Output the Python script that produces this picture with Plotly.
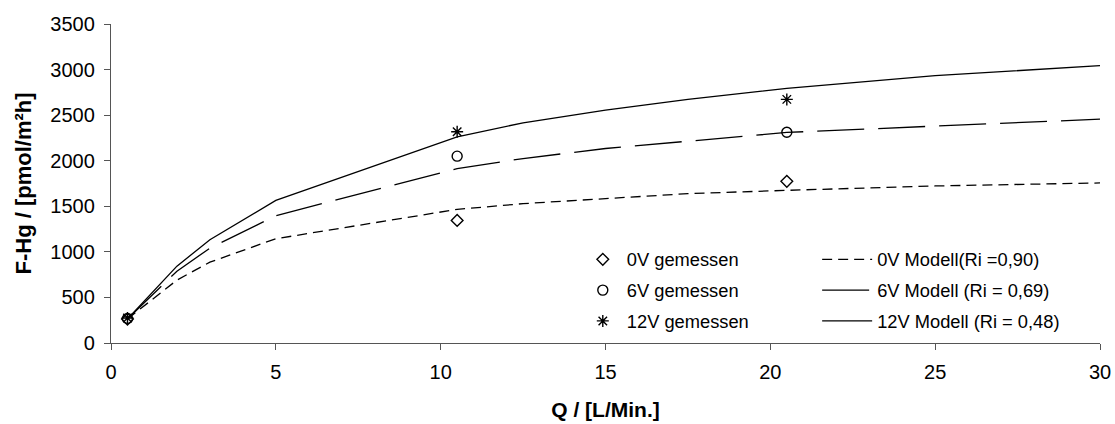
import plotly.graph_objects as go

# Measured flux at three flow rates
q_measured = [0.5, 10.5, 20.5]
flux_0v = [262, 1345, 1774]
flux_6v = [268, 2050, 2313]
flux_12v = [275, 2317, 2673]

# Model curves
q_model = [0.5, 2, 3, 5, 10.5, 12.5, 15, 17.5, 20.5, 25, 30]
model_0v = [264, 690, 887, 1144, 1466, 1529, 1584, 1639, 1675, 1723, 1756]
model_6v = [264, 788, 1041, 1397, 1914, 2024, 2134, 2215, 2310, 2380, 2456]
model_12v = [264, 843, 1133, 1565, 2262, 2416, 2555, 2673, 2794, 2933, 3043]

x_ticks = [0, 5, 10, 15, 20, 25, 30]
y_ticks = [0, 500, 1000, 1500, 2000, 2500, 3000, 3500]

FONT = "Liberation Sans, Arial, sans-serif"
INK = "black"

fig = go.Figure()

models = [
    ("0V Modell(Ri =0,90)", model_0v, "10px,6px"),
    ("6V Modell (Ri = 0,69)", model_6v, "47px,14px"),
    ("12V Modell (Ri = 0,48)", model_12v, "solid"),
]
for name, ys, dash in models:
    fig.add_trace(go.Scatter(
        x=q_model, y=ys, mode="lines", name=name,
        line=dict(color=INK, width=1.3, dash=dash),
        legend="legend2", legendgroup=name,
    ))

measured = [
    ("0V gemessen", flux_0v, "diamond-open", 9),
    ("6V gemessen", flux_6v, "circle-open", 10),
    ("12V gemessen", flux_12v, "asterisk-open", 10),
]
for name, ys, sym, size in measured:
    fig.add_trace(go.Scatter(
        x=q_measured, y=ys, mode="markers", name=name,
        marker=dict(symbol=sym, size=size, color=INK, line=dict(color=INK, width=1.4)),
        legend="legend", legendgroup=name,
    ))

legend_style = dict(
    font=dict(family=FONT, size=18.3, color=INK),
    bgcolor="rgba(0,0,0,0)", borderwidth=0,
    xanchor="left", yanchor="top", tracegroupgap=4,
    orientation="v",
)

fig.update_layout(
    width=1115, height=424,
    margin=dict(l=111, r=15, t=24, b=81),
    paper_bgcolor="white", plot_bgcolor="white",
    font=dict(family=FONT, size=20, color=INK),
    showlegend=True,
    legend=dict(x=0.473, y=0.32, itemwidth=38, **legend_style),
    legend2=dict(x=0.714, y=0.32, itemwidth=50, **legend_style),
    xaxis=dict(
        range=[0, 30], tickvals=x_ticks, ticktext=[str(v) for v in x_ticks],
        showline=True, linecolor="#555", linewidth=1.3,
        ticks="outside", ticklen=6, tickcolor="#555", tickwidth=1.3,
        showgrid=False, zeroline=False, automargin=False,
        ticklabelstandoff=5,
        tickfont=dict(family=FONT, size=20, color=INK),
        title=dict(text="<b>Q / [L/Min.]</b>", font=dict(family=FONT, size=21, color=INK), standoff=20),
    ),
    yaxis=dict(
        range=[0, 3500], tickvals=y_ticks, ticktext=[str(v) for v in y_ticks],
        showline=True, linecolor="#555", linewidth=1.3,
        ticks="outside", ticklen=6, tickcolor="#555", tickwidth=1.3,
        showgrid=False, zeroline=False, automargin=False,
        ticklabelstandoff=5,
        tickfont=dict(family=FONT, size=20, color=INK),
        title=dict(text="<b>F-Hg / [pmol/m²h]</b>", font=dict(family=FONT, size=22, color=INK), standoff=12),
    ),
)

fig.write_html("out.html")
